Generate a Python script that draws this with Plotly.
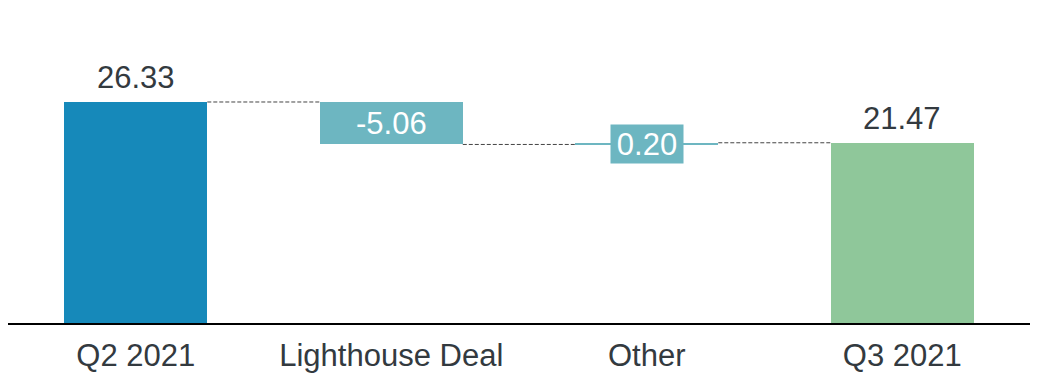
import plotly.graph_objects as go

# Quarterly bridge: opening total, movements, closing total
categories = ["Q2 2021", "Lighthouse Deal", "Other", "Q3 2021"]
values = [26.33, -5.06, 0.20, 21.47]
kinds = ["total", "delta", "delta", "total"]
labels = ["26.33", "-5.06", "0.20", "21.47"]
colors = ["#1689ba", "#6db6c1", "#6db6c1", "#8fc79a"]

BAR_W = 0.56
FONT = "Liberation Sans, Arial, sans-serif"
FONT_SIZE = 31
TEXT_DARK = "#333a3f"

# bases and tops of each bar from the running total
bases, tops = [], []
running = 0.0
for v, k in zip(values, kinds):
    if k == "total":
        b, t = 0.0, v
        running = v
    else:
        start = running
        running = running + v
        b, t = min(start, running), max(start, running)
    bases.append(b)
    tops.append(t)

# level carried from one bar to the next (for the dashed connectors)
levels = []
running = 0.0
for v, k in zip(values, kinds):
    running = v if k == "total" else running + v
    levels.append(running)

x = list(range(len(categories)))
fig = go.Figure()

fig.add_trace(go.Bar(
    x=x,
    y=[t - b for b, t in zip(bases, tops)],
    base=bases,
    width=BAR_W,
    marker=dict(color=colors, line=dict(width=0)),
    hoverinfo="skip",
    showlegend=False,
))

# dashed connectors between neighbouring bars
for i in range(len(categories) - 1):
    fig.add_trace(go.Scatter(
        x=[i + BAR_W / 2, i + 1 - BAR_W / 2],
        y=[levels[i], levels[i]],
        mode="lines",
        line=dict(color="#444444", width=1, dash="4px,2px"),
        hoverinfo="skip",
        showlegend=False,
    ))

# value labels: totals above the bar, movements centred on the bar;
# a movement too thin to hold its label gets a filled label box
for i, (lab, k) in enumerate(zip(labels, kinds)):
    if k == "total":
        fig.add_annotation(x=i, y=tops[i], text=lab, showarrow=False,
                           yanchor="bottom", yshift=5,
                           font=dict(family=FONT, size=FONT_SIZE, color=TEXT_DARK))
    elif abs(values[i]) < 2:
        fig.add_annotation(x=i, y=(bases[i] + tops[i]) / 2, text=lab,
                           showarrow=False, yanchor="middle",
                           bgcolor=colors[i], borderpad=0, width=72, height=38,
                           font=dict(family=FONT, size=FONT_SIZE, color="white"))
    else:
        fig.add_annotation(x=i, y=(bases[i] + tops[i]) / 2, text=lab,
                           showarrow=False, yanchor="middle",
                           font=dict(family=FONT, size=FONT_SIZE, color="white"))

fig.update_layout(
    width=1038, height=376,
    margin=dict(l=8, r=8, t=0, b=53),
    paper_bgcolor="white", plot_bgcolor="white",
    bargap=0,
    xaxis=dict(
        tickmode="array", tickvals=x, ticktext=categories,
        range=[-0.5, len(categories) - 0.5],
        showline=True, linecolor="black", linewidth=2,
        showgrid=False, zeroline=False, ticks="",
        ticklabelstandoff=4,
        tickfont=dict(family=FONT, size=FONT_SIZE, color=TEXT_DARK),
    ),
    yaxis=dict(range=[0, 38.48], visible=False, showgrid=False, zeroline=False),
)

fig.write_html("out.html")
